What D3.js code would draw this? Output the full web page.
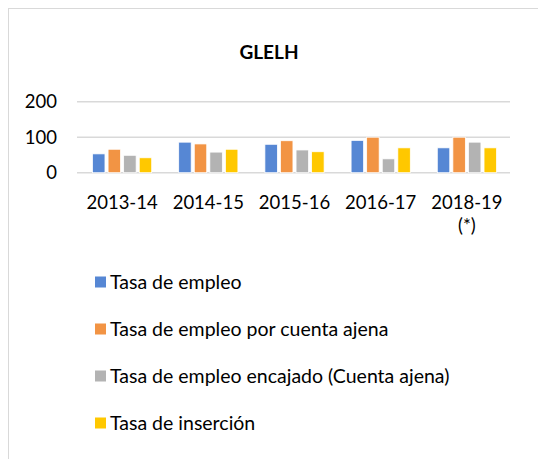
<!DOCTYPE html>
<html>
<head>
<meta charset="utf-8">
<script src="https://cdn.jsdelivr.net/npm/d3@7"></script>
<style>
  body { margin: 0; background: #fff; }
  text { font-family: Lato, "Open Sans", sans-serif; fill: #000; }
</style>
</head>
<body>
<svg id="chart"></svg>
<script>
// data
var years = ["2013-14", "2014-15", "2015-16", "2016-17", "2018-19 (*)"];
var series = ["Tasa de empleo", "Tasa de empleo por cuenta ajena",
              "Tasa de empleo encajado (Cuenta ajena)", "Tasa de inserción"];
var empleo    = [53, 86, 80, 91, 70];
var ajena     = [66, 81, 90, 100, 100];
var encajado  = [49, 58, 64, 39, 86];
var insercion = [42, 66, 59, 70, 70];
var yTicks = [0, 100, 200];
var colors = ["#5687d4", "#f29444", "#b3b3b3", "#ffc800"];

var values = [empleo, ajena, encajado, insercion];

var width = 538, height = 459;
var svg = d3.select("#chart")
    .attr("width", width)
    .attr("height", height);

// chart frame
svg.append("rect")
    .attr("x", 8.5).attr("y", 8.5)
    .attr("width", 540).attr("height", 460)
    .attr("fill", "none")
    .attr("stroke", "#d9d9d9");

svg.append("text")   //title
    .attr("x", 269).attr("y", 59)
    .attr("text-anchor", "middle")
    .attr("font-size", "19px")
    .attr("font-weight", "bold")
    .text("GLELH");

var x0 = d3.scaleBand().domain(years).range([79, 510]);
var x1 = d3.scaleBand().domain(d3.range(series.length))
    .range([13.5, 72.7]).paddingInner(0.2);
var y = d3.scaleLinear().domain([0, 200]).range([172.7, 101.7]);

// gridlines
svg.append("g").selectAll("line")
    .data(yTicks)
    .enter().append("line")
    .attr("x1", 77).attr("x2", 510)
    .attr("y1", d => y(d)).attr("y2", d => y(d))
    .attr("stroke", "#d9d9d9")
    .attr("stroke-width", 1.5);

// y tick labels
svg.append("g").selectAll("text")
    .data(yTicks)
    .enter().append("text")
    .attr("x", 57)
    .attr("y", d => y(d))
    .attr("dy", "0.35em")
    .attr("text-anchor", "end")
    .attr("font-size", "18.5px")
    .text(d => d);

// bars
var groups = svg.append("g").selectAll("g")
    .data(years)
    .enter().append("g")
    .attr("transform", d => "translate(" + x0(d) + ",0)");

groups.selectAll("rect")
    .data((d, i) => values.map((v, s) => ({s: s, v: v[i]})))
    .enter().append("rect")
    .attr("x", d => x1(d.s))
    .attr("width", x1.bandwidth())
    .attr("y", d => y(d.v))
    .attr("height", d => y(0) - y(d.v))
    .attr("fill", d => colors[d.s])
    .attr("stroke", "#fff")
    .attr("stroke-width", 0.75);

// category labels (wrapped at the space)
svg.append("g").selectAll("text")
    .data(years)
    .enter().append("text")
    .attr("x", d => x0(d) + x0.bandwidth() / 2)
    .attr("y", 209)
    .attr("text-anchor", "middle")
    .attr("font-size", "18.5px")
    .each(function(d) {
        var parts = d.split(" ");
        var t = d3.select(this);
        parts.forEach((p, i) => {
            t.append("tspan")
                .attr("x", x0(d) + x0.bandwidth() / 2)
                .attr("dy", i ? 22.5 : 0)
                .text(p);
        });
    });

// legend
var leg = svg.append("g").selectAll("g")
    .data(series)
    .enter().append("g")
    .attr("transform", (d, i) => "translate(95," + (282 + i * 47) + ")");

leg.append("rect")
    .attr("x", 0).attr("y", -5.5)
    .attr("width", 11).attr("height", 11)
    .attr("fill", (d, i) => colors[i]);

leg.append("text")
    .attr("x", 15)
    .attr("dy", "0.35em")
    .attr("font-size", "19.5px")
    .text(d => d);
</script>
</body>
</html>
